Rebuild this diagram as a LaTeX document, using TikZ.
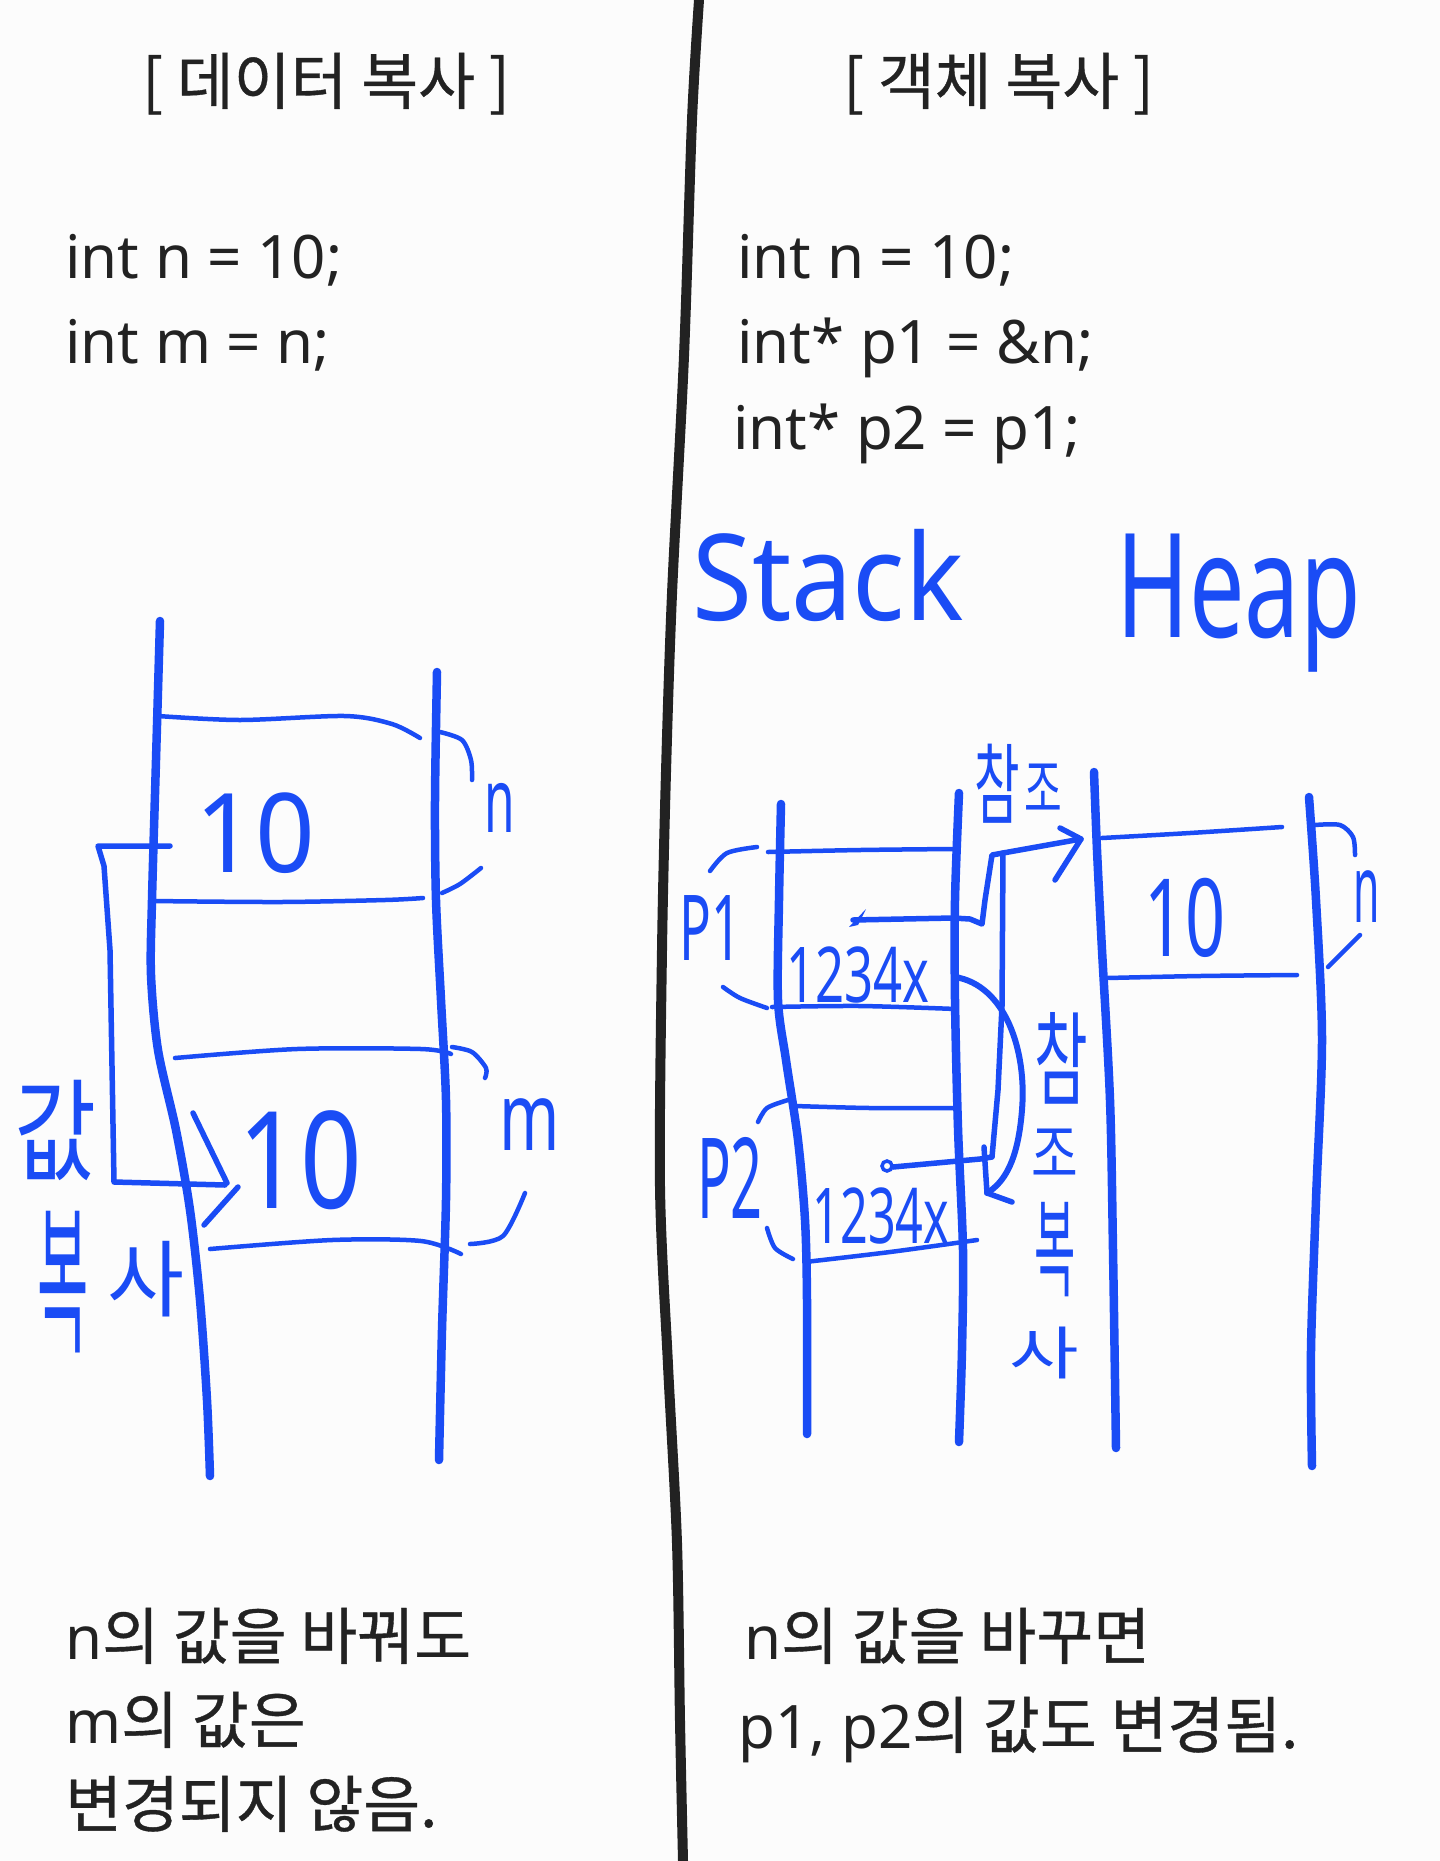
\documentclass[tikz,border=0pt]{standalone}
\usepackage{fontspec}
\setmainfont{Noto Sans}
\newfontfamily\kr{Noto Sans CJK KR}[Scale=1.03, FakeBold=0.6]
\newfontfamily\krh{Noto Sans CJK KR}[Scale=0.93]
\definecolor{ink}{HTML}{1A4CF5}
\definecolor{txt}{HTML}{222222}
\definecolor{bg}{HTML}{FCFCFC}
\newcommand\hwtxt[3]{\scalebox{#1}[1]{\fontsize{#2}{#2}\selectfont #3}}
\newcommand\K[1]{{\kr #1}}
\begin{document}
\begin{tikzpicture}[x=1pt,y=-1pt,
  stk/.style={draw=ink, line width=8.5pt, line cap=round, line join=round},
  hl/.style={draw=ink, line width=4.5pt, line cap=round, line join=round},
  pen/.style={draw=ink, line width=5.5pt, line cap=round, line join=round},
  divider/.style={draw=txt, line width=10pt, line cap=round},
  code/.style={anchor=base west, inner sep=0pt, text=txt, font=\fontsize{60}{72}\selectfont},
  hand/.style={inner sep=0pt, text=ink}]
\fill[bg] (0,0) rectangle (1440,1861);
\useasboundingbox (0,0) rectangle (1440,1861);

% divider
\draw[divider] plot[smooth] coordinates {(699,0) (692,120) (684,356) (672,594) (666,772) (662,950) (660,1187) (668,1365) (677,1543) (680,1721) (683,1861)};

% titles
\node[code] (titleL) at (142,104) {\K{[ 데이터 복사 ]}};
\node[code] (titleR) at (843,104) {\K{[ 객체 복사 ]}};

% code
\node[code] (cL1) at (65,278) {int n = 10;};
\node[code] (cL2) at (65,363) {int m = n;};
\node[code] (cR1) at (737,278) {int n = 10;};
\node[code] (cR2) at (737,363) {int* p1 = \&n;};
\node[code] (cR3) at (733,449) {int* p2 = p1;};

% bottom text
\node[code] (bL1) at (65,1659) {n\K{의 값을 바꿔도}};
\node[code] (bL2) at (65,1743) {m\K{의 값은}};
\node[code] (bL3) at (65,1827) {\K{변경되지 않음.}};
\node[code] (bR1) at (744,1659) {n\K{의 값을 바꾸면}};
\node[code] (bR2) at (738,1748) {p1, p2\K{의 값도 변경됨.}};

% ===== left panel: data copy =====
\draw[stk] plot[smooth] coordinates {(160,621) (156,760) (152,900) (151,975) (158,1050) (176,1130) (190,1210) (200,1300) (207,1400) (210,1476)};
\draw[stk] plot[smooth] coordinates {(437,672) (435,800) (436,900) (441,1000) (446,1100) (446,1200) (442,1330) (439,1460)};
\draw[hl] plot[smooth] coordinates {(158,716) (240,720) (345,716) (392,724) (420,738)};
\draw[hl] plot[smooth] coordinates {(152,901) (280,902) (385,900) (423,898)};
\draw[hl] plot[smooth] coordinates {(175,1058) (297,1049) (421,1049) (451,1054)};
\draw[hl] plot[smooth] coordinates {(210,1249) (332,1240) (421,1241) (461,1254)};
% brackets
\draw[hl] plot[smooth] coordinates {(440,732) (462,740) (471,760) (472,780)};
\draw[hl] plot[smooth] coordinates {(442,893) (460,884) (481,868)};
\draw[hl] plot[smooth] coordinates {(452,1047) (472,1052) (486,1068) (485,1078)};
\draw[hl] plot[smooth] coordinates {(470,1244) (503,1236) (525,1193)};
% values and names
\node[hand] (vn) at (255,833) {\hwtxt{0.95}{110}{10}};
\node[hand] (vm) at (300,1160) {\hwtxt{0.8}{135}{10}};
\node[hand] (ln) at (500,808) {\hwtxt{0.55}{90}{n}};
\node[hand] (lm) at (530,1125) {\hwtxt{0.68}{95}{m}};
% copy arrow
\draw[pen] (170,846) -- (98,846) -- (104,866) -- (110,950) -- (114,1182) -- (225,1185);
\draw[pen] (193,1113) -- (227,1183);
\draw[pen] (238,1187) -- (204,1225);
\node[hand] (lval) at (56,1130) {\hwtxt{0.8}{120}{\krh 값}};
\node[hand] (lbok) at (63,1282) {\scalebox{0.4}[1.15]{\fontsize{150}{150}\selectfont\krh 복}};
\node[hand] (lsa) at (146,1279) {\hwtxt{1.0}{90}{\krh 사}};

% ===== right panel: object copy =====
\node[hand, anchor=base west] (stack) at (692,620) {\hwtxt{0.91}{120}{Stack}};
\node[hand, anchor=base west] (heap) at (1116,637) {\hwtxt{0.68}{145}{Heap}};

% stack ladder
\draw[stk] plot[smooth] coordinates {(781,804) (779,900) (778,1000) (786,1060) (798,1140) (805,1220) (807,1300) (807,1434)};
\draw[stk] plot[smooth] coordinates {(959,793) (955,900) (955,1000) (958,1128) (963,1250) (962,1350) (959,1442)};
\draw[hl] plot[smooth] coordinates {(768,852) (860,850) (953,849)};
\draw[hl] plot[smooth] coordinates {(772,1007) (860,1006) (956,1009)};
\draw[hl] plot[smooth] coordinates {(795,1106) (870,1108) (957,1108)};
\draw[hl] plot[smooth] coordinates {(805,1262) (890,1252) (977,1240)};
\draw[hl] plot[smooth] coordinates {(710,871) (727,853) (757,847)};
\draw[hl] plot[smooth] coordinates {(723,987) (740,998) (767,1008)};
\draw[hl] plot[smooth] coordinates {(758,1122) (767,1108) (788,1100)};
\draw[hl] plot[smooth] coordinates {(767,1228) (775,1248) (793,1259)};
\node[hand] (p1) at (711,928) {\hwtxt{0.58}{91}{P1}};
\node[hand] (p2) at (730,1178) {\hwtxt{0.5}{112}{P2}};
\node[hand] (a1) at (858,975) {\hwtxt{0.66}{77}{1234x}};
\node[hand] (a2) at (881,1216) {\hwtxt{0.63}{77}{1234x}};

% heap ladder
\draw[stk] plot[smooth] coordinates {(1094,772) (1097,850) (1102,950) (1110,1100) (1113,1250) (1116,1448)};
\draw[stk] plot[smooth] coordinates {(1309,797) (1316,900) (1322,1040) (1316,1200) (1311,1350) (1312,1466)};
\draw[hl] plot[smooth] coordinates {(1102,838) (1190,833) (1282,827)};
\draw[hl] plot[smooth] coordinates {(1107,978) (1200,976) (1297,975)};
\draw[hl] plot[smooth] coordinates {(1315,825) (1340,825) (1353,837) (1355,855)};
\draw[hl] plot[smooth] coordinates {(1328,967) (1347,948) (1360,935)};
\node[hand] (hv) at (1185,918) {\hwtxt{0.65}{108}{10}};
\node[hand] (hn) at (1367,897) {\hwtxt{0.45}{95}{n}};

% reference arrow p1 -> heap
\coordinate (aS) at (853,920);
\coordinate (aE) at (1081,839);
\draw[pen] (aS) -- (953,918) -- (970,919) -- (982,924) -- (985,900) -- (992,855) -- (1003,853) -- (aE);
\draw[pen] (1060,828) -- (aE) -- (1055,880);
\fill[ink] (849,927) -- (866,909) -- (858,925) -- cycle;
% p2 also refers
\coordinate (bE) at (893,1167);
\draw[pen] (1003,853) -- (1002,1006) -- (998,1090) -- (992,1157) -- (980,1159) -- (bE);
\draw[ink, line width=3.5pt] (887,1166) circle[radius=5];
% reference copy arrow
\coordinate (cS) at (955,977);
\coordinate (cE) at (987,1193);
\draw[pen, line width=6pt] (cS) .. controls (1005,985) and (1027,1050) .. (1022,1110) .. controls (1018,1160) and (1005,1182) .. (cE);
\draw[pen] (984,1147) -- (cE) -- (1012,1202);

% labels
\node[hand] (rt1) at (997,784) {\hwtxt{0.56}{95}{\krh 참}};
\node[hand] (rt2) at (1043,788) {\hwtxt{0.63}{70}{\krh 조}};
\node[hand] (rc1) at (1061,1058) {\hwtxt{0.57}{110}{\krh 참}};
\node[hand] (rc2) at (1055,1153) {\hwtxt{0.78}{70}{\krh 조}};
\node[hand] (rc3) at (1055,1250) {\hwtxt{0.42}{115}{\krh 복}};
\node[hand] (rc4) at (1044,1353) {\scalebox{1.25}[0.95]{\fontsize{65}{65}\selectfont\krh 사}};
\end{tikzpicture}
\end{document}
